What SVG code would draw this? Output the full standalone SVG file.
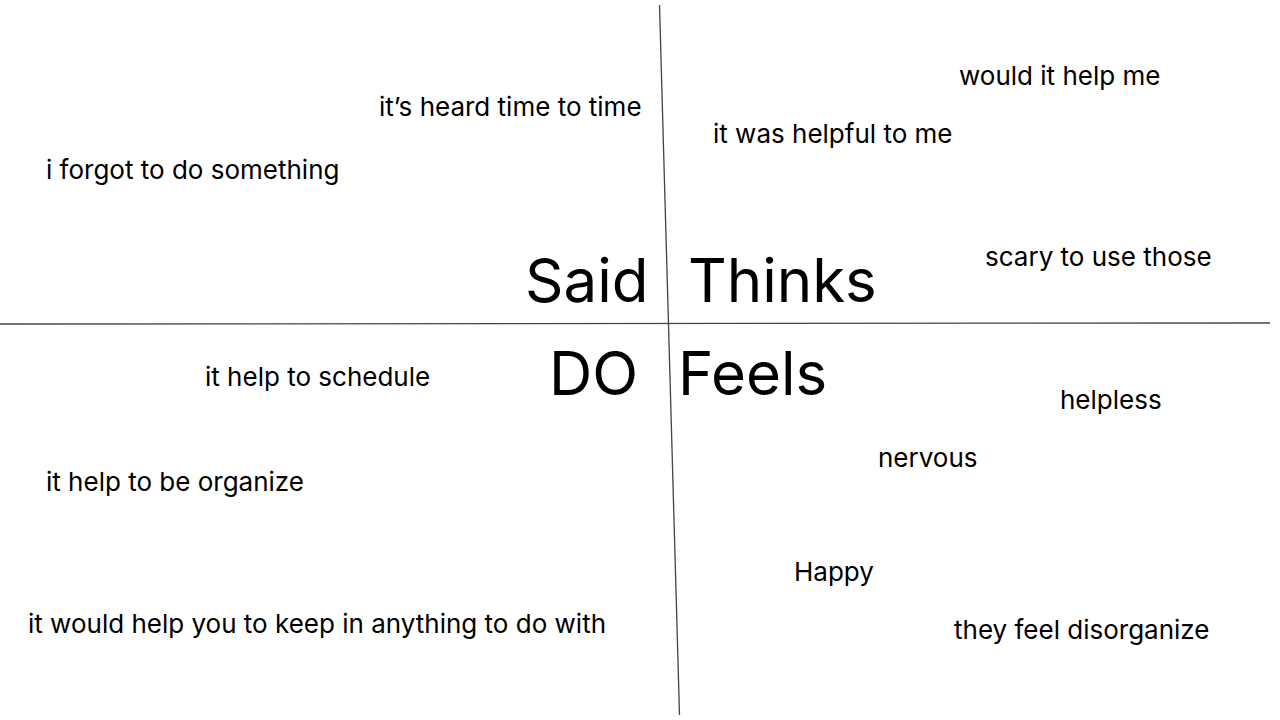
<svg xmlns="http://www.w3.org/2000/svg" width="1280" height="720" viewBox="0 0 1280 720">
<style>
.s{font-family:Inter,"Liberation Sans",sans-serif;font-size:26px;fill:#000}
.b{font-family:Inter,"Liberation Sans",sans-serif;font-size:60px;fill:#000}
.ln{stroke:#444;stroke-width:1.3;fill:none}
</style>
<rect width="1280" height="720" fill="#fff"/>
<g id="connectors">
<line class="ln" x1="659.5" y1="5" x2="679.5" y2="715"/>
<line class="ln" x1="0" y1="324" x2="1270" y2="323"/>
</g>
<g id="headers">
<text class="b" x="525" y="302">Said</text>
<text class="b" x="688" y="302">Thinks</text>
<text class="b" x="549" y="395">DO</text>
<text class="b" x="678" y="395">Feels</text>
</g>
<g id="said">
<text class="s" x="379" y="116">it’s heard time to time</text>
<text class="s" x="46" y="179">i forgot to do something</text>
</g>
<g id="thinks">
<text class="s" x="959" y="85">would it help me</text>
<text class="s" x="713" y="143">it was helpful to me</text>
<text class="s" x="985" y="266">scary to use those</text>
</g>
<g id="do">
<text class="s" x="205" y="386">it help to schedule</text>
<text class="s" x="46" y="491">it help to be organize</text>
<text class="s" x="28" y="633">it would help you to keep in anything to do with</text>
</g>
<g id="feels">
<text class="s" x="1060" y="409">helpless</text>
<text class="s" x="878" y="467">nervous</text>
<text class="s" x="794" y="581">Happy</text>
<text class="s" x="954" y="639">they feel disorganize</text>
</g>
</svg>
